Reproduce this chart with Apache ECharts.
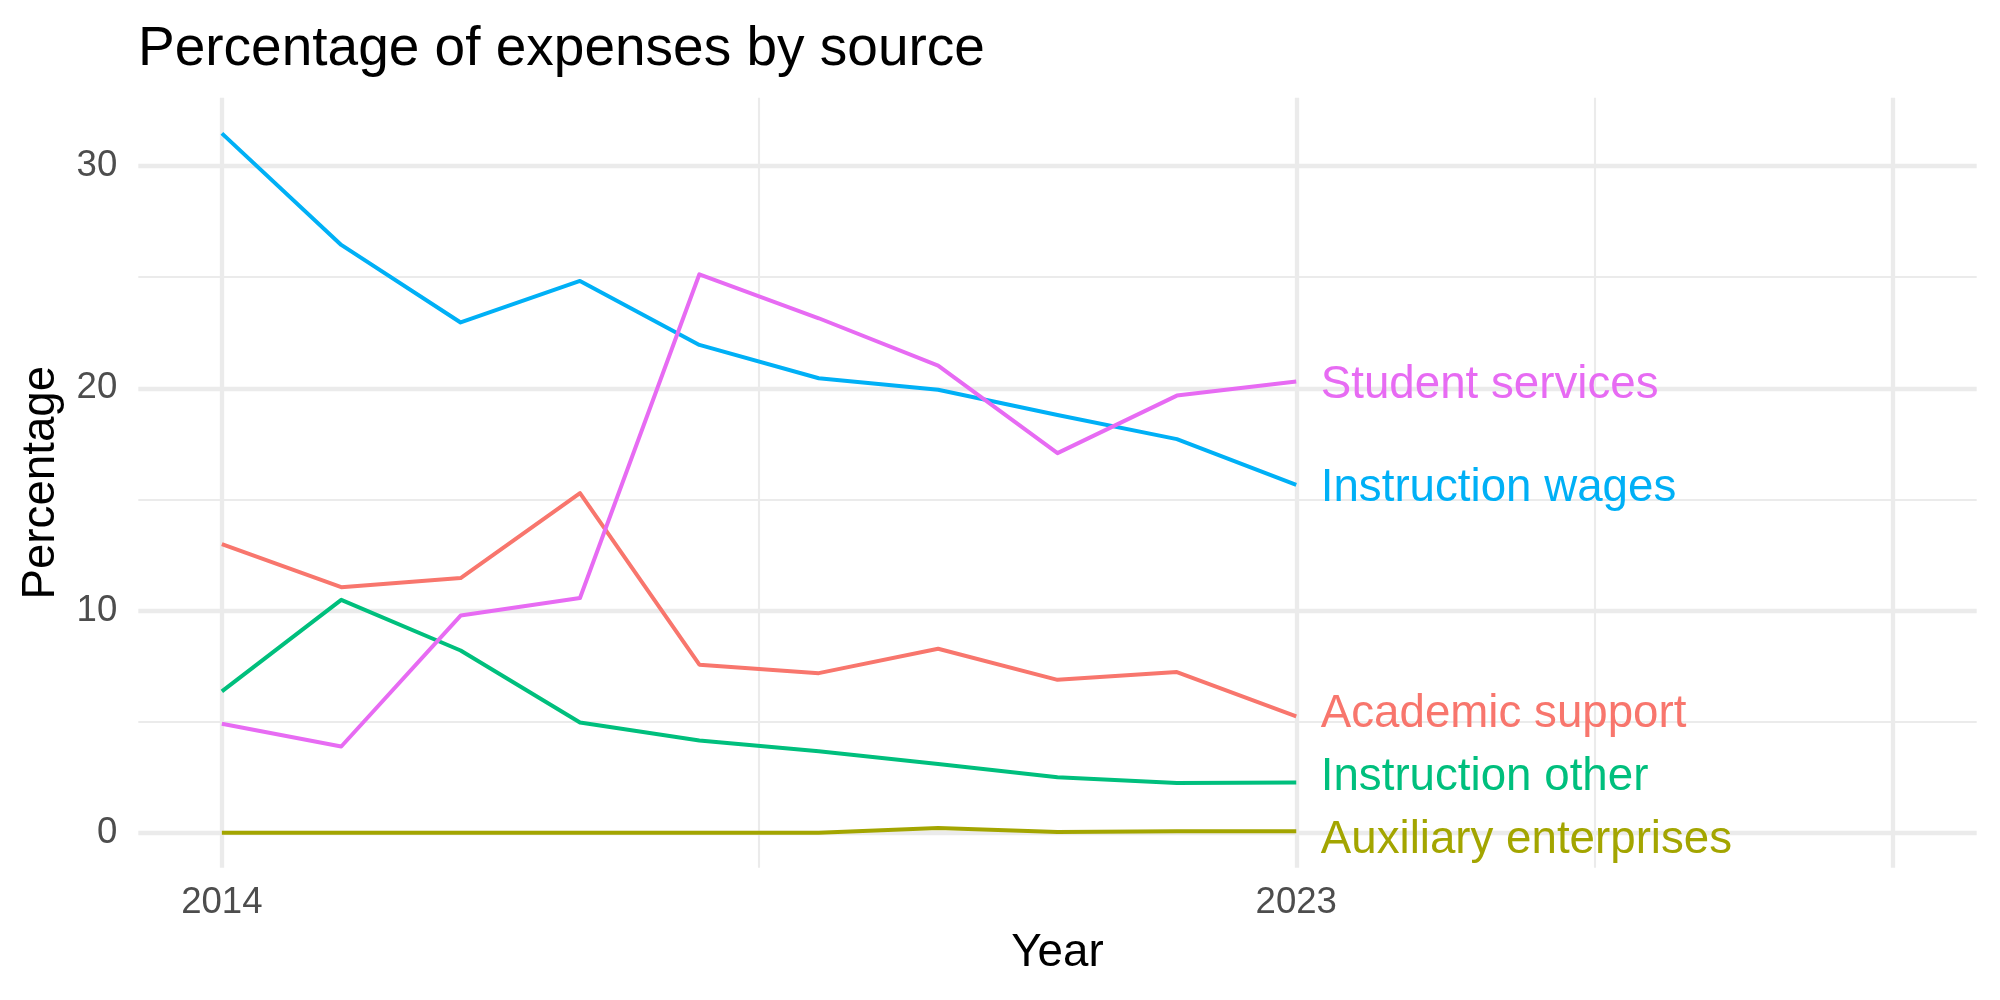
<!DOCTYPE html>
<html>
<head>
<meta charset="utf-8">
<script src="https://cdn.jsdelivr.net/npm/echarts@6/dist/echarts.min.js"></script>
<style>
html,body{margin:0;padding:0;background:#fff;}
#chart{width:2000px;height:1000px;}
</style>
</head>
<body>
<div id="chart"></div>
<script>
const years = [2014, 2015, 2016, 2017, 2018, 2019, 2020, 2021, 2022, 2023];
const seriesNames = ['Academic support', 'Auxiliary enterprises', 'Instruction other', 'Instruction wages', 'Student services'];
const academicSupport = [12.99, 11.05, 11.46, 15.28, 7.56, 7.18, 8.28, 6.88, 7.23, 5.23];
const auxiliaryEnterprises = [0, 0, 0, 0, 0, 0, 0.21, 0.03, 0.06, 0.06];
const instructionOther = [6.36, 10.48, 8.20, 4.96, 4.15, 3.66, 3.09, 2.50, 2.24, 2.26];
const instructionWages = [31.47, 26.45, 22.96, 24.83, 21.95, 20.45, 19.93, 18.80, 17.71, 15.65];
const studentServices = [4.90, 3.88, 9.77, 10.56, 25.13, 23.15, 21.02, 17.08, 19.67, 20.30];
// repelled label positions (value units)
const labelValues = [5.5, -0.16, 2.66, 15.67, 20.33];
const xTickLabels = [2014, 2023];
const yTickLabels = [0, 10, 20, 30];
const xMajorBreaks = [2014, 2023, 2028];
const xMinorBreaks = [2018.5, 2025.5];
const yMajorBreaks = [0, 10, 20, 30];
const yMinorBreaks = [5, 15, 25];

const colors = ['#F8766D', '#A3A500', '#00BF7D', '#00B0F6', '#E76BF3'];
const values = [academicSupport, auxiliaryEnterprises, instructionOther, instructionWages, studentServices];
const FONT = '"Liberation Sans", Arial, Helvetica, sans-serif';

const chart = echarts.init(document.getElementById('chart'), null, {renderer: 'canvas'});

const gridMark = [];
xMajorBreaks.forEach(v => gridMark.push({xAxis: v, lineStyle: {width: 4.3}}));
xMinorBreaks.forEach(v => gridMark.push({xAxis: v, lineStyle: {width: 2.1}}));
yMajorBreaks.forEach(v => gridMark.push({yAxis: v, lineStyle: {width: 4.3}}));
yMinorBreaks.forEach(v => gridMark.push({yAxis: v, lineStyle: {width: 2.1}}));

const series = [{
  type: 'line',
  name: 'grid',
  data: [],
  z: 0,
  silent: true,
  markLine: {
    silent: true,
    z: 0,
    symbol: ['none', 'none'],
    label: {show: false},
    animation: false,
    lineStyle: {color: '#EBEBEB', type: 'solid', opacity: 1},
    emphasis: {disabled: true},
    data: gridMark
  }
}];

seriesNames.forEach((name, i) => {
  series.push({
    type: 'line',
    name: name,
    data: years.map((y, j) => [y, values[i][j]]),
    symbol: 'none',
    smooth: false,
    z: 10 + i,
    lineStyle: {color: colors[i], width: 4, join: 'round', cap: 'butt'},
    itemStyle: {color: colors[i]},
    animation: false
  });
});

series.push({
  type: 'scatter',
  name: 'labels',
  data: seriesNames.map((n, i) => ({
    value: [years[years.length - 1], labelValues[i]],
    name: n,
    label: {color: colors[i]}
  })),
  symbolSize: 1,
  itemStyle: {color: 'rgba(0,0,0,0)', opacity: 1},
  z: 20,
  silent: true,
  animation: false,
  label: {
    show: true,
    position: 'right',
    distance: 24,
    offset: [0, 4],
    formatter: p => p.name,
    fontFamily: FONT,
    fontSize: 45.7,
    opacity: 1,
    verticalAlign: 'middle'
  }
});

chart.setOption({
  backgroundColor: '#ffffff',
  animation: false,
  title: {
    text: 'Percentage of expenses by source',
    left: 138,
    top: 22,
    padding: 0,
    textStyle: {fontFamily: FONT, fontSize: 55, fontWeight: 'normal', color: '#000000'}
  },
  grid: {left: 138.3, right: 23.3, top: 97.7, bottom: 132.3, outerBoundsMode: 'none', containLabel: false},
  xAxis: {
    type: 'value',
    min: 2013.3,
    max: 2028.7,
    axisLine: {show: false},
    axisTick: {show: false},
    splitLine: {show: false},
    axisLabel: {
      customValues: xTickLabels,
      color: '#4D4D4D',
      fontFamily: FONT,
      fontSize: 36.6,
      margin: 17,
      formatter: v => String(v)
    }
  },
  yAxis: {
    type: 'value',
    min: -1.575,
    max: 33.075,
    axisLine: {show: false},
    axisTick: {show: false},
    splitLine: {show: false},
    axisLabel: {
      customValues: yTickLabels,
      color: '#4D4D4D',
      fontFamily: FONT,
      fontSize: 36.6,
      margin: 21,
      formatter: v => String(v)
    }
  },
  graphic: [
    {
      type: 'text', x: 1057.5, y: 953, silent: true,
      style: {text: 'Year', font: '45.7px ' + FONT, fill: '#000000', textAlign: 'center', textVerticalAlign: 'middle'}
    },
    {
      type: 'text', x: 41, y: 482.7, rotation: Math.PI / 2, silent: true,
      style: {text: 'Percentage', font: '45.7px ' + FONT, fill: '#000000', textAlign: 'center', textVerticalAlign: 'middle'}
    }
  ],
  series: series
});
</script>
</body>
</html>
